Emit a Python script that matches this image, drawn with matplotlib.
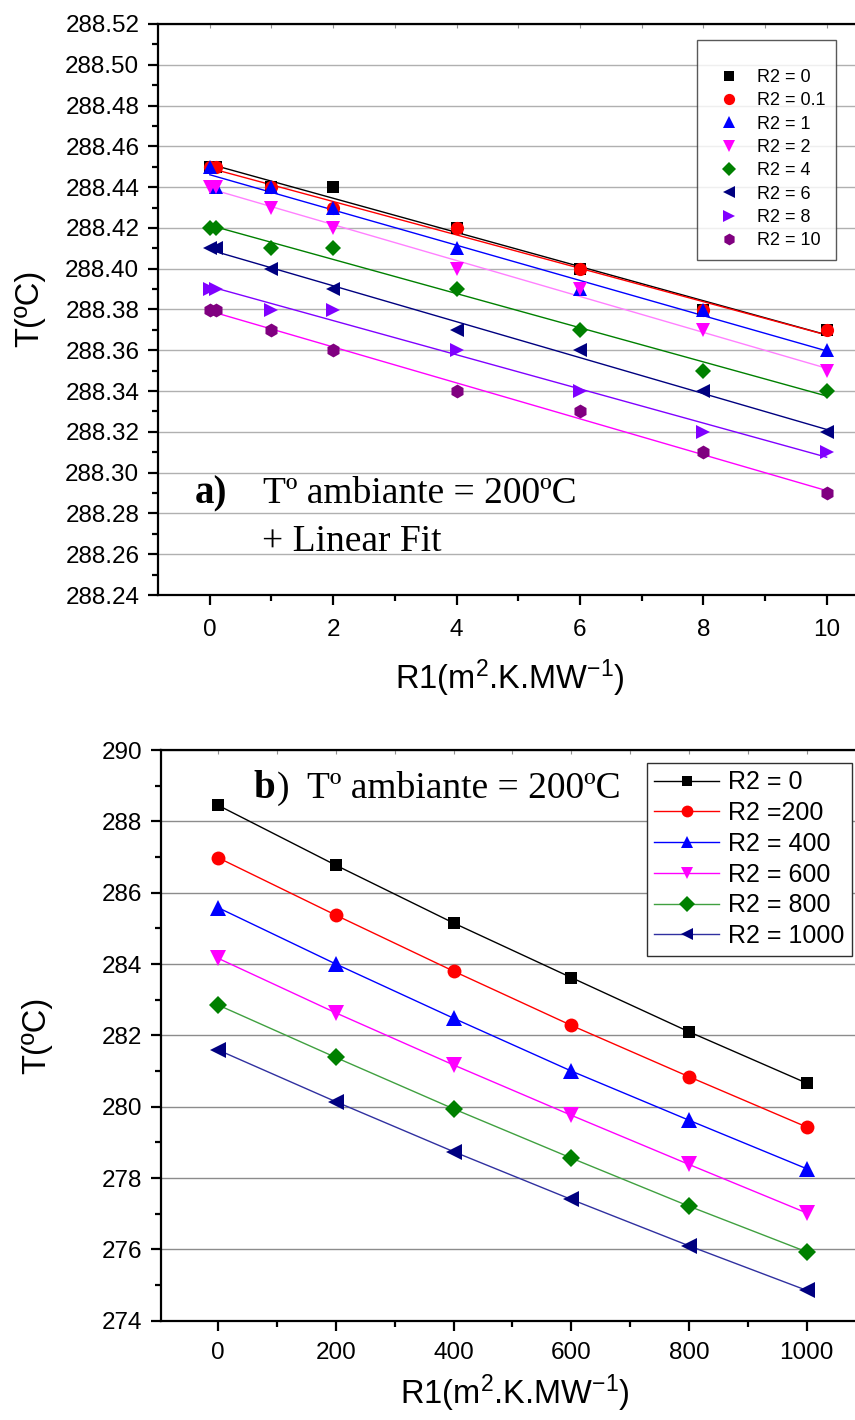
import numpy as np
import matplotlib
matplotlib.use("Agg")
import matplotlib.pyplot as plt
from matplotlib.ticker import MultipleLocator, FormatStrFormatter

plt.rcParams['font.family'] = ['Liberation Sans', 'DejaVu Sans']
plt.rcParams['mathtext.fontset'] = 'custom'
plt.rcParams['mathtext.rm'] = 'Liberation Sans'
plt.rcParams['mathtext.it'] = 'Liberation Sans:italic'

# ---------------- data: panel a ----------------
r1_a = [0, 0.1, 1, 2, 4, 6, 8, 10]
labels_a = ['R2 = 0', 'R2 = 0.1', 'R2 = 1', 'R2 = 2', 'R2 = 4', 'R2 = 6', 'R2 = 8', 'R2 = 10']
t_a_r0 = [288.45, 288.45, 288.44, 288.44, 288.42, 288.40, 288.38, 288.37]
t_a_r01 = [288.45, 288.45, 288.44, 288.43, 288.42, 288.40, 288.38, 288.37]
t_a_r1 = [288.45, 288.44, 288.44, 288.43, 288.41, 288.39, 288.38, 288.36]
t_a_r2 = [288.44, 288.44, 288.43, 288.42, 288.40, 288.39, 288.37, 288.35]
t_a_r4 = [288.42, 288.42, 288.41, 288.41, 288.39, 288.37, 288.35, 288.34]
t_a_r6 = [288.41, 288.41, 288.40, 288.39, 288.37, 288.36, 288.34, 288.32]
t_a_r8 = [288.39, 288.39, 288.38, 288.38, 288.36, 288.34, 288.32, 288.31]
t_a_r10 = [288.38, 288.38, 288.37, 288.36, 288.34, 288.33, 288.31, 288.29]

# ---------------- data: panel b ----------------
r1_b = [0, 200, 400, 600, 800, 1000]
labels_b = ['R2 = 0', 'R2 =200', 'R2 = 400', 'R2 = 600', 'R2 = 800', 'R2 = 1000']
t_b_r0 = [288.45, 286.77, 285.15, 283.62, 282.10, 280.66]
t_b_r200 = [286.98, 285.37, 283.80, 282.28, 280.84, 279.43]
t_b_r400 = [285.58, 284.00, 282.48, 281.00, 279.62, 278.26]
t_b_r600 = [284.16, 282.63, 281.17, 279.76, 278.38, 277.02]
t_b_r800 = [282.85, 281.38, 279.94, 278.56, 277.21, 275.93]
t_b_r1000 = [281.59, 280.14, 278.74, 277.40, 276.10, 274.85]

series_a = [t_a_r0, t_a_r01, t_a_r1, t_a_r2, t_a_r4, t_a_r6, t_a_r8, t_a_r10]
series_b = [t_b_r0, t_b_r200, t_b_r400, t_b_r600, t_b_r800, t_b_r1000]

marker_a = ['s', 'o', '^', 'v', 'D', '<', '>', 'h']
mcolor_a = ['#000000', '#ff0000', '#0000ff', '#ff00ff', '#008000', '#000080', '#8000ff', '#800080']
lcolor_a = ['#000000', '#ff0000', '#0000ff', '#ff80ff', '#008000', '#000080', '#8000ff', '#ff00ff']
msize_a = [8.5, 9.5, 10.5, 10.5, 8.5, 10.5, 10.5, 10]

marker_b = ['s', 'o', '^', 'v', 'D', '<']
color_b = ['#000000', '#ff0000', '#0000ff', '#ff00ff', '#008000', '#000080']
lcolor_b = ['#000000', '#ff0000', '#0000ff', '#ff00ff', '#40a040', '#3030a0']
msize_b = [9, 10, 11, 11, 9, 11]

W, H = 855, 1420
fig = plt.figure(figsize=(W / 100, H / 100), dpi=100)

serif = ['Liberation Serif', 'DejaVu Serif']
tick_fs = 17.5
label_fs = 23.5
grid_col_a = '#b0b0b0'
grid_col_b = '#8c8c8c'


def style_axes(ax, grid_col):
    for s in ['left', 'bottom', 'top']:
        ax.spines[s].set_linewidth(1.6)
        ax.spines[s].set_color('black')
    ax.spines['right'].set_visible(False)
    ax.tick_params(axis='both', which='major', direction='out', length=7.5, width=1.6,
                   labelsize=tick_fs, top=False, right=False)
    ax.tick_params(axis='both', which='minor', direction='out', length=4, width=1.6,
                   top=False, right=False)
    ax.tick_params(axis='y', which='major', pad=6)
    ax.grid(True, axis='y', which='major', color=grid_col, linewidth=1.0)
    ax.set_axisbelow(True)
    sec = ax.secondary_xaxis('top')
    sec.tick_params(axis='x', which='both', direction='in', length=3, width=0.8,
                    color='#909090', labeltop=False)
    sec.xaxis.set_major_locator(ax.xaxis.get_major_locator())
    sec.xaxis.set_minor_locator(ax.xaxis.get_minor_locator())
    sec.set_xticklabels([])
    sec.spines['top'].set_visible(False)


# ---------------- panel a ----------------
ax1 = fig.add_axes([158 / W, 1 - 595 / H, 1 - 158 / W, (595 - 24) / H])
ax1.set_xlim(-0.84, 10.46)
ax1.set_ylim(288.24, 288.52)
ax1.xaxis.set_major_locator(MultipleLocator(2))
ax1.xaxis.set_minor_locator(MultipleLocator(1))
ax1.yaxis.set_major_locator(MultipleLocator(0.02))
ax1.yaxis.set_minor_locator(MultipleLocator(0.01))
ax1.yaxis.set_major_formatter(FormatStrFormatter('%.2f'))
ax1.tick_params(axis='x', which='major', pad=10)

x_a = np.array(r1_a, dtype=float)
xfit = np.array([0.0, 10.0])
handles_a = []
for ys, lc in zip(series_a, lcolor_a):
    ys = np.array(ys)
    k, b = np.polyfit(x_a, ys, 1)
    ax1.plot(xfit, k * xfit + b, color=lc, lw=1.0, zorder=2)
for ys, m, mc, ms, lab in zip(series_a, marker_a, mcolor_a, msize_a, labels_a):
    h, = ax1.plot(x_a, ys, linestyle='none', marker=m, color=mc, markersize=ms,
                  markeredgewidth=0, label=lab, zorder=3)
    handles_a.append(h)
style_axes(ax1, grid_col_a)

leg1 = ax1.legend(handles=handles_a, loc='upper right',
                  bbox_to_anchor=(836 / W, 1 - 40 / H), bbox_transform=fig.transFigure,
                  fontsize=13, numpoints=1, frameon=True, fancybox=False,
                  borderpad=0.6, labelspacing=0.35, handlelength=2.3, handletextpad=0.4,
                  borderaxespad=0, title=' ', title_fontsize=9, markerscale=0.85)
leg1.get_frame().set_edgecolor('#303030')
leg1.get_frame().set_linewidth(1.0)

ax1.text(195 / W, 1 - 503 / H, 'a)', transform=fig.transFigure, fontsize=28,
         fontweight='bold', family=serif, ha='left', va='baseline')
ax1.text(263 / W, 1 - 503 / H, 'Tº ambiante = 200ºC', transform=fig.transFigure,
         fontsize=27, family=serif, ha='left', va='baseline')
ax1.text(262 / W, 1 - 551 / H, '+ Linear Fit', transform=fig.transFigure,
         fontsize=27, family=serif, ha='left', va='baseline')

fig.text(510 / W, 1 - 678 / H, 'R1(m$^2$.K.MW$^{-1}$)', fontsize=label_fs, ha='center', va='center')
fig.text(30 / W, 1 - 308 / H, 'T(ºC)', fontsize=label_fs, ha='center', va='center', rotation=90)

# ---------------- panel b ----------------
ax2 = fig.add_axes([161 / W, 1 - 1320.7 / H, 1 - 161 / W, (1320.7 - 750) / H])
ax2.set_xlim(-97, 1082)
ax2.set_ylim(274, 290)
ax2.xaxis.set_major_locator(MultipleLocator(200))
ax2.xaxis.set_minor_locator(MultipleLocator(100))
ax2.yaxis.set_major_locator(MultipleLocator(2))
ax2.yaxis.set_minor_locator(MultipleLocator(1))
ax2.tick_params(axis='x', which='major', pad=8)

for ys, m, c, lc, ms, lab in zip(series_b, marker_b, color_b, lcolor_b, msize_b, labels_b):
    ax2.plot(r1_b, ys, linestyle='-', lw=1.0, color=lc, marker=m, markerfacecolor=c,
             markeredgecolor=c, markeredgewidth=0, markersize=ms, label=lab, zorder=3)
style_axes(ax2, grid_col_b)

leg2 = ax2.legend(loc='upper right', bbox_to_anchor=(852 / W, 1 - 763 / H),
                  bbox_transform=fig.transFigure, fontsize=18, numpoints=1,
                  frameon=True, fancybox=False, borderpad=0.3, labelspacing=0.27,
                  handlelength=2.6, handletextpad=0.35, borderaxespad=0, markerscale=0.85)
leg2.get_frame().set_edgecolor('#303030')
leg2.get_frame().set_linewidth(1.0)
leg2.get_frame().set_alpha(1)

ax2.text(253 / W, 1 - 798 / H, 'b', transform=fig.transFigure, fontsize=28,
         fontweight='bold', family=serif, ha='left', va='baseline')
ax2.text(277 / W, 1 - 798 / H, ')', transform=fig.transFigure, fontsize=27,
         family=serif, ha='left', va='baseline')
ax2.text(307 / W, 1 - 798 / H, 'Tº ambiante = 200ºC', transform=fig.transFigure,
         fontsize=27, family=serif, ha='left', va='baseline')

fig.text(515 / W, 1 - 1393 / H, 'R1(m$^2$.K.MW$^{-1}$)', fontsize=label_fs, ha='center', va='center')
fig.text(37 / W, 1 - 1035 / H, 'T(ºC)', fontsize=label_fs, ha='center', va='center', rotation=90)

fig.savefig('out.png', dpi=100)
